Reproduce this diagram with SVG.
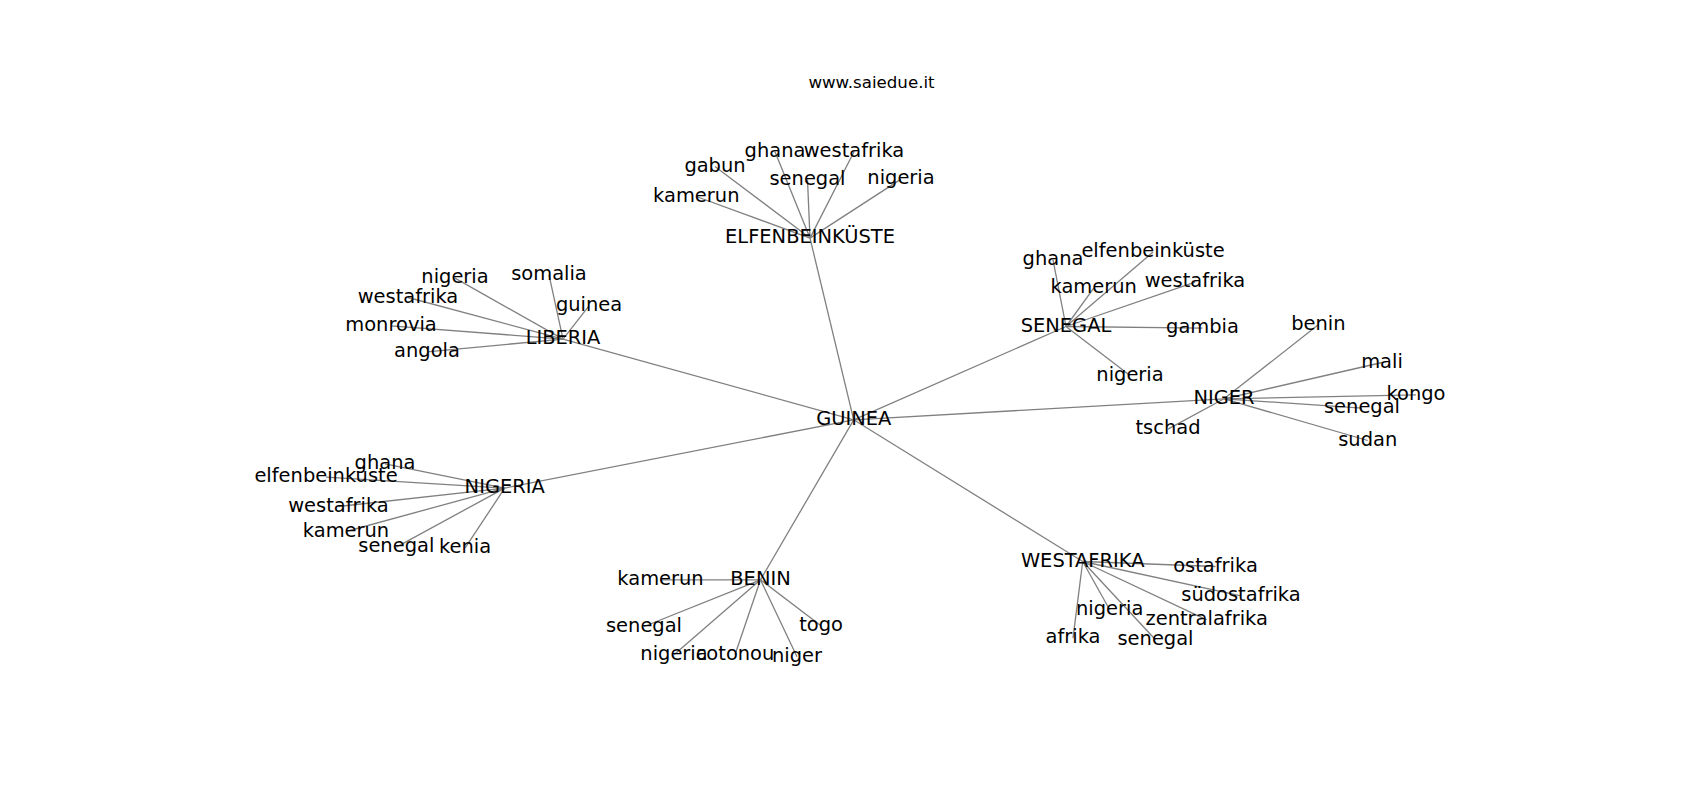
<svg xmlns="http://www.w3.org/2000/svg" width="1700" height="800" viewBox="0 0 1700 800">
<style>
.e{stroke:#808080;stroke-width:1.3;fill:none}
text{font-family:"DejaVu Sans","Liberation Sans",sans-serif;font-size:19.44px;fill:#000;text-anchor:middle}
.t{font-size:16.67px}
</style>
<rect width="1700" height="800" fill="#fff"/>
<text class="t" x="871.5" y="87.5">www.saiedue.it</text>
<g id="connectors">
<line class="e" x1="853.7" y1="419.8" x2="810" y2="238.1"/>
<line class="e" x1="853.7" y1="419.8" x2="563" y2="339.1"/>
<line class="e" x1="853.7" y1="419.8" x2="504.7" y2="488.1"/>
<line class="e" x1="853.7" y1="419.8" x2="760.5" y2="579.8"/>
<line class="e" x1="853.7" y1="419.8" x2="1082.7" y2="561.5"/>
<line class="e" x1="853.7" y1="419.8" x2="1224" y2="398.8"/>
<line class="e" x1="853.7" y1="419.8" x2="1066" y2="326.5"/>
<line class="e" x1="810" y1="238.1" x2="775" y2="151.8"/>
<line class="e" x1="810" y1="238.1" x2="854" y2="151.8"/>
<line class="e" x1="810" y1="238.1" x2="715" y2="166.5"/>
<line class="e" x1="810" y1="238.1" x2="807.5" y2="179.8"/>
<line class="e" x1="810" y1="238.1" x2="901" y2="179.1"/>
<line class="e" x1="810" y1="238.1" x2="696.3" y2="196.5"/>
<line class="e" x1="563" y1="339.1" x2="455" y2="278.1"/>
<line class="e" x1="563" y1="339.1" x2="549" y2="274.8"/>
<line class="e" x1="563" y1="339.1" x2="408" y2="297.5"/>
<line class="e" x1="563" y1="339.1" x2="589" y2="305.8"/>
<line class="e" x1="563" y1="339.1" x2="391" y2="325.8"/>
<line class="e" x1="563" y1="339.1" x2="427" y2="351.8"/>
<line class="e" x1="504.7" y1="488.1" x2="385" y2="463.8"/>
<line class="e" x1="504.7" y1="488.1" x2="326" y2="477.1"/>
<line class="e" x1="504.7" y1="488.1" x2="338.5" y2="506.5"/>
<line class="e" x1="504.7" y1="488.1" x2="346" y2="531.5"/>
<line class="e" x1="504.7" y1="488.1" x2="396.3" y2="547.1"/>
<line class="e" x1="504.7" y1="488.1" x2="465" y2="548.1"/>
<line class="e" x1="1066" y1="326.5" x2="1053" y2="259.8"/>
<line class="e" x1="1066" y1="326.5" x2="1153" y2="252.1"/>
<line class="e" x1="1066" y1="326.5" x2="1093.7" y2="288.1"/>
<line class="e" x1="1066" y1="326.5" x2="1195" y2="282.1"/>
<line class="e" x1="1066" y1="326.5" x2="1202.5" y2="328.1"/>
<line class="e" x1="1066" y1="326.5" x2="1130" y2="375.5"/>
<line class="e" x1="1224" y1="398.8" x2="1318.3" y2="324.8"/>
<line class="e" x1="1224" y1="398.8" x2="1382" y2="362.5"/>
<line class="e" x1="1224" y1="398.8" x2="1416" y2="394.8"/>
<line class="e" x1="1224" y1="398.8" x2="1362" y2="408.1"/>
<line class="e" x1="1224" y1="398.8" x2="1168" y2="429.1"/>
<line class="e" x1="1224" y1="398.8" x2="1367.7" y2="440.5"/>
<line class="e" x1="760.5" y1="579.8" x2="660.5" y2="579.8"/>
<line class="e" x1="760.5" y1="579.8" x2="644" y2="626.5"/>
<line class="e" x1="760.5" y1="579.8" x2="821" y2="625.8"/>
<line class="e" x1="760.5" y1="579.8" x2="674" y2="654.8"/>
<line class="e" x1="760.5" y1="579.8" x2="735" y2="654.8"/>
<line class="e" x1="760.5" y1="579.8" x2="797" y2="656.8"/>
<line class="e" x1="1082.7" y1="561.5" x2="1215.5" y2="566.5"/>
<line class="e" x1="1082.7" y1="561.5" x2="1241" y2="595.8"/>
<line class="e" x1="1082.7" y1="561.5" x2="1109.7" y2="609.8"/>
<line class="e" x1="1082.7" y1="561.5" x2="1206.7" y2="619.8"/>
<line class="e" x1="1082.7" y1="561.5" x2="1073" y2="638.1"/>
<line class="e" x1="1082.7" y1="561.5" x2="1155.5" y2="639.8"/>
</g>
<g id="guinea"><text x="853.7" y="425">GUINEA</text></g>
<g id="elfenbeinkueste"><text x="810" y="243.3">ELFENBEINKÜSTE</text></g>
<g id="elf-ghana"><text x="775" y="157">ghana</text></g>
<g id="elf-westafrika"><text x="854" y="157">westafrika</text></g>
<g id="elf-gabun"><text x="715" y="171.7">gabun</text></g>
<g id="elf-senegal"><text x="807.5" y="185">senegal</text></g>
<g id="elf-nigeria"><text x="901" y="184.3">nigeria</text></g>
<g id="elf-kamerun"><text x="696.3" y="201.7">kamerun</text></g>
<g id="liberia"><text x="563" y="344.3">LIBERIA</text></g>
<g id="lib-nigeria"><text x="455" y="283.3">nigeria</text></g>
<g id="lib-somalia"><text x="549" y="280">somalia</text></g>
<g id="lib-westafrika"><text x="408" y="302.7">westafrika</text></g>
<g id="lib-guinea"><text x="589" y="311">guinea</text></g>
<g id="lib-monrovia"><text x="391" y="331">monrovia</text></g>
<g id="lib-angola"><text x="427" y="357">angola</text></g>
<g id="nigeria"><text x="504.7" y="493.3">NIGERIA</text></g>
<g id="nig-ghana"><text x="385" y="469">ghana</text></g>
<g id="nig-elfenbeinkueste"><text x="326" y="482.3">elfenbeinküste</text></g>
<g id="nig-westafrika"><text x="338.5" y="511.7">westafrika</text></g>
<g id="nig-kamerun"><text x="346" y="536.7">kamerun</text></g>
<g id="nig-senegal"><text x="396.3" y="552.3">senegal</text></g>
<g id="nig-kenia"><text x="465" y="553.3">kenia</text></g>
<g id="senegal"><text x="1066" y="331.7">SENEGAL</text></g>
<g id="sen-ghana"><text x="1053" y="265">ghana</text></g>
<g id="sen-elfenbeinkueste"><text x="1153" y="257.3">elfenbeinküste</text></g>
<g id="sen-kamerun"><text x="1093.7" y="293.3">kamerun</text></g>
<g id="sen-westafrika"><text x="1195" y="287.3">westafrika</text></g>
<g id="sen-gambia"><text x="1202.5" y="333.3">gambia</text></g>
<g id="sen-nigeria"><text x="1130" y="380.7">nigeria</text></g>
<g id="niger"><text x="1224" y="404">NIGER</text></g>
<g id="ngr-benin"><text x="1318.3" y="330">benin</text></g>
<g id="ngr-mali"><text x="1382" y="367.7">mali</text></g>
<g id="ngr-kongo"><text x="1416" y="400">kongo</text></g>
<g id="ngr-senegal"><text x="1362" y="413.3">senegal</text></g>
<g id="ngr-tschad"><text x="1168" y="434.3">tschad</text></g>
<g id="ngr-sudan"><text x="1367.7" y="445.7">sudan</text></g>
<g id="benin"><text x="760.5" y="585">BENIN</text></g>
<g id="ben-kamerun"><text x="660.5" y="585">kamerun</text></g>
<g id="ben-senegal"><text x="644" y="631.7">senegal</text></g>
<g id="ben-togo"><text x="821" y="631">togo</text></g>
<g id="ben-nigeria"><text x="674" y="660">nigeria</text></g>
<g id="ben-cotonou"><text x="735" y="660">cotonou</text></g>
<g id="ben-niger"><text x="797" y="662">niger</text></g>
<g id="westafrika"><text x="1082.7" y="566.7">WESTAFRIKA</text></g>
<g id="wa-ostafrika"><text x="1215.5" y="571.7">ostafrika</text></g>
<g id="wa-suedostafrika"><text x="1241" y="601">südostafrika</text></g>
<g id="wa-nigeria"><text x="1109.7" y="615">nigeria</text></g>
<g id="wa-zentralafrika"><text x="1206.7" y="625">zentralafrika</text></g>
<g id="wa-afrika"><text x="1073" y="643.3">afrika</text></g>
<g id="wa-senegal"><text x="1155.5" y="645">senegal</text></g>
</svg>
